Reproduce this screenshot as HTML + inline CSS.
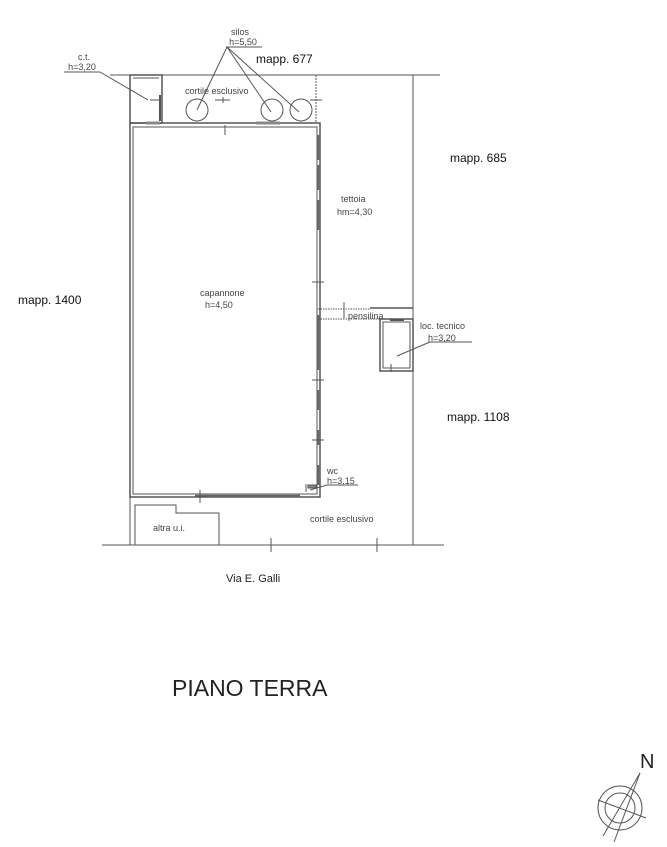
<!DOCTYPE html>
<html><head><meta charset="utf-8"><style>
html,body{margin:0;padding:0;background:#fff}
svg{display:block}
text{font-family:"Liberation Sans",sans-serif;fill:#222}
.s{font-size:9px;fill:#444}
.m{font-size:12px;fill:#111}
</style></head><body>
<svg width="667" height="847" viewBox="0 0 667 847" xmlns="http://www.w3.org/2000/svg">
<g stroke="#555" stroke-width="1" fill="none">
<line x1="110" y1="75" x2="440" y2="75"/>
<line x1="413" y1="75" x2="413" y2="545"/>
<line x1="102" y1="545" x2="444" y2="545"/>
<line x1="130" y1="497" x2="130" y2="545"/>
<line x1="316" y1="75" x2="316" y2="123" stroke-dasharray="2,1"/>
<rect x="130" y="75" width="32" height="48" stroke-width="1.5"/>
<line x1="133" y1="78" x2="159" y2="78"/>
<line x1="160" y1="95" x2="160" y2="121" stroke-width="2"/>
<line x1="150" y1="100" x2="160" y2="100"/>
<rect x="130" y="123" width="190" height="374" stroke-width="1.5"/>
<rect x="133" y="127" width="184" height="367"/>
<line x1="146" y1="123" x2="160" y2="123" stroke-width="3" stroke="#888"/>
<line x1="225" y1="125" x2="225" y2="135"/>
<line x1="223" y1="97" x2="223" y2="103"/>
<line x1="215" y1="100" x2="230" y2="100"/>
<line x1="310" y1="100" x2="322" y2="100"/>
<line x1="256" y1="123" x2="280" y2="123" stroke-width="3" stroke="#888"/>
<g stroke-width="2.5" stroke="#666">
<line x1="318" y1="135" x2="318" y2="160"/>
<line x1="318" y1="165" x2="318" y2="190"/>
<line x1="318" y1="200" x2="318" y2="230"/>
<line x1="318" y1="315" x2="318" y2="370"/>
<line x1="318" y1="390" x2="318" y2="410"/>
<line x1="318" y1="430" x2="318" y2="445"/>
<line x1="318" y1="465" x2="318" y2="485"/>
<line x1="195" y1="496" x2="300" y2="496"/>
</g>
<line x1="312" y1="282" x2="324" y2="282"/>
<line x1="312" y1="380" x2="324" y2="380"/>
<line x1="312" y1="440" x2="324" y2="440"/>
<line x1="200" y1="490" x2="200" y2="503"/>
<line x1="195" y1="497" x2="208" y2="497"/>
<line x1="306" y1="484" x2="306" y2="492"/>
<rect x="308" y="485" width="8" height="3" fill="#888"/>
<circle cx="197" cy="110" r="11"/>
<circle cx="272" cy="110" r="11"/>
<circle cx="301" cy="110" r="11"/>
<line x1="226" y1="47" x2="262" y2="47"/>
<line x1="227" y1="47" x2="197" y2="110"/>
<line x1="227" y1="47" x2="271" y2="112"/>
<line x1="227" y1="47" x2="299" y2="112"/>
<line x1="64" y1="72" x2="100" y2="72"/>
<line x1="100" y1="72" x2="148" y2="100"/>
<line x1="318" y1="309" x2="370" y2="309" stroke-dasharray="1.5,1"/>
<line x1="318" y1="319" x2="380" y2="319" stroke-dasharray="1.5,1"/>
<line x1="370" y1="308" x2="413" y2="308" stroke-width="1.5"/>
<line x1="344" y1="302" x2="344" y2="318"/>
<rect x="380" y="319" width="33" height="52" stroke-width="1.5"/>
<rect x="383" y="322" width="27" height="46"/>
<line x1="390" y1="320" x2="404" y2="320" stroke-width="2"/>
<line x1="397" y1="356" x2="430" y2="342"/>
<line x1="428" y1="342" x2="472" y2="342"/>
<line x1="391" y1="364" x2="391" y2="372"/>
<line x1="327" y1="485" x2="358" y2="485"/>
<line x1="327" y1="485" x2="310" y2="490"/>
<polyline points="135,545 135,505 176,505 176,513 219,513 219,545"/>
<line x1="271" y1="538" x2="271" y2="552"/>
<line x1="377" y1="538" x2="377" y2="552"/>
<circle cx="620" cy="808" r="22"/>
<circle cx="620" cy="808" r="15"/>
<line x1="598" y1="800" x2="646" y2="818"/>
<line x1="640" y1="773" x2="614" y2="842"/>
<line x1="640" y1="773" x2="603" y2="836"/>
</g>
<text x="240" y="35" class="s" text-anchor="middle">silos</text>
<text x="243" y="45" class="s" text-anchor="middle">h=5,50</text>
<text x="256" y="63" class="m">mapp. 677</text>
<text x="450" y="162" class="m">mapp. 685</text>
<text x="18" y="304" class="m">mapp. 1400</text>
<text x="447" y="421" class="m">mapp. 1108</text>
<text x="84" y="60" class="s" text-anchor="middle">c.t.</text>
<text x="82" y="70" class="s" text-anchor="middle">h=3,20</text>
<text x="185" y="94" class="s">cortile esclusivo</text>
<text x="341" y="202" class="s">tettoia</text>
<text x="337" y="215" class="s">hm=4,30</text>
<text x="200" y="296" class="s">capannone</text>
<text x="205" y="308" class="s">h=4,50</text>
<text x="348" y="319" class="s">pensilina</text>
<text x="420" y="329" class="s">loc. tecnico</text>
<text x="428" y="341" class="s">h=3,20</text>
<text x="327" y="474" class="s">wc</text>
<text x="327" y="484" class="s">h=3,15</text>
<text x="310" y="522" class="s">cortile esclusivo</text>
<text x="153" y="531" class="s">altra u.i.</text>
<text x="226" y="582" font-size="11">Via E. Galli</text>
<text x="172" y="696" font-size="23" fill="#111">PIANO TERRA</text>
<text x="640" y="768" font-size="20" fill="#111">N</text>
</svg>
</body></html>
